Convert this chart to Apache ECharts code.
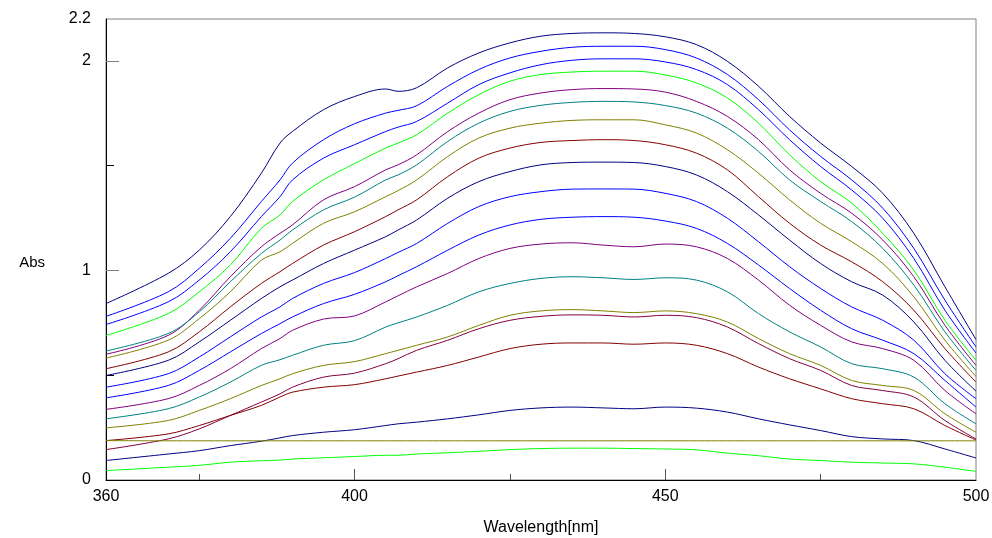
<!DOCTYPE html>
<html>
  <head>
    <meta charset="utf-8" />
    <title>Abs spectra</title>
    <script src="https://cdn.jsdelivr.net/npm/echarts@6.0.0/dist/echarts.min.js"></script>
    <style>
      html, body { margin: 0; padding: 0; background: #fff; }
    </style>
  </head>
  <body>
    <div id="main" style="width: 992px;height: 538px;"></div>
    <script type="text/javascript">
      // wavelengths [nm] shared by every trace
      var wavelengths = [360, 370, 375, 380, 385, 388, 390, 395, 400, 405, 407, 410, 415, 420, 425,
                         430, 435, 440, 445, 450, 455, 460, 465, 470, 475, 480, 485, 490, 495, 500];

      // absorbance traces, top to bottom
      var abs01 = [0.842, 0.986, 1.097, 1.257, 1.464, 1.608, 1.663, 1.767, 1.830, 1.866, 1.855, 1.872, 1.967, 2.038, 2.086,
                   2.118, 2.131, 2.134, 2.131, 2.115, 2.078, 1.998, 1.879, 1.735, 1.608, 1.496, 1.368, 1.177, 0.922, 0.670];
      var abs02 = [0.781, 0.898, 1.010, 1.153, 1.329, 1.432, 1.512, 1.624, 1.700, 1.751, 1.764, 1.786, 1.879, 1.959, 2.014,
                   2.046, 2.065, 2.070, 2.070, 2.054, 2.014, 1.935, 1.815, 1.671, 1.544, 1.432, 1.297, 1.105, 0.858, 0.635];
      var abs03 = [0.742, 0.850, 0.954, 1.089, 1.257, 1.352, 1.432, 1.536, 1.600, 1.663, 1.684, 1.711, 1.799, 1.887, 1.943,
                   1.982, 2.003, 2.010, 2.010, 1.995, 1.959, 1.887, 1.767, 1.624, 1.496, 1.384, 1.249, 1.057, 0.810, 0.606];
      var abs04 = [0.690, 0.794, 0.898, 1.026, 1.201, 1.265, 1.329, 1.432, 1.510, 1.584, 1.608, 1.648, 1.751, 1.839, 1.903,
                   1.935, 1.947, 1.951, 1.951, 1.933, 1.895, 1.823, 1.703, 1.552, 1.424, 1.321, 1.177, 1.001, 0.762, 0.571];
      var abs05 = [0.600, 0.690, 0.810, 0.970, 1.113, 1.177, 1.217, 1.337, 1.400, 1.480, 1.504, 1.552, 1.663, 1.751, 1.815,
                   1.847, 1.863, 1.868, 1.866, 1.851, 1.807, 1.735, 1.624, 1.480, 1.368, 1.273, 1.145, 0.970, 0.738, 0.547];
      var abs06 = [0.616, 0.699, 0.802, 0.946, 1.081, 1.145, 1.193, 1.289, 1.350, 1.432, 1.456, 1.504, 1.616, 1.703, 1.759,
                   1.788, 1.802, 1.807, 1.804, 1.787, 1.751, 1.679, 1.568, 1.432, 1.329, 1.233, 1.105, 0.930, 0.707, 0.523];
      var abs07 = [0.582, 0.667, 0.770, 0.898, 1.049, 1.089, 1.129, 1.225, 1.280, 1.352, 1.381, 1.432, 1.544, 1.632, 1.679,
                   1.703, 1.716, 1.719, 1.719, 1.695, 1.656, 1.576, 1.464, 1.337, 1.225, 1.137, 1.033, 0.874, 0.667, 0.494];
      var abs08 = [0.531, 0.611, 0.707, 0.826, 0.938, 0.994, 1.033, 1.121, 1.185, 1.257, 1.289, 1.337, 1.448, 1.536, 1.584,
                   1.611, 1.620, 1.624, 1.620, 1.600, 1.560, 1.480, 1.352, 1.225, 1.121, 1.041, 0.946, 0.810, 0.627, 0.467];
      var abs09 = [0.499, 0.571, 0.659, 0.762, 0.866, 0.922, 0.954, 1.033, 1.097, 1.161, 1.193, 1.241, 1.345, 1.424, 1.472,
                   1.504, 1.515, 1.517, 1.515, 1.496, 1.456, 1.376, 1.265, 1.145, 1.033, 0.946, 0.882, 0.754, 0.571, 0.424];
      var abs10 = [0.443, 0.507, 0.587, 0.683, 0.778, 0.826, 0.866, 0.938, 0.990, 1.057, 1.086, 1.129, 1.225, 1.305, 1.352,
                   1.376, 1.388, 1.389, 1.388, 1.368, 1.329, 1.249, 1.137, 1.018, 0.914, 0.826, 0.762, 0.667, 0.507, 0.388];
      var abs11 = [0.392, 0.451, 0.523, 0.611, 0.699, 0.746, 0.778, 0.842, 0.886, 0.946, 0.975, 1.018, 1.097, 1.169, 1.217,
                   1.244, 1.254, 1.257, 1.254, 1.236, 1.201, 1.129, 1.026, 0.914, 0.810, 0.722, 0.667, 0.603, 0.475, 0.348];
      var abs12 = [0.337, 0.388, 0.451, 0.531, 0.627, 0.675, 0.714, 0.768, 0.783, 0.850, 0.879, 0.922, 0.986, 1.057, 1.105,
                   1.126, 1.132, 1.121, 1.113, 1.126, 1.113, 1.057, 0.954, 0.834, 0.738, 0.659, 0.627, 0.571, 0.427, 0.316];
      var abs13 = [0.292, 0.340, 0.396, 0.467, 0.547, 0.574, 0.595, 0.643, 0.665, 0.730, 0.750, 0.778, 0.834, 0.898, 0.938,
                   0.962, 0.970, 0.965, 0.957, 0.965, 0.954, 0.898, 0.794, 0.707, 0.635, 0.555, 0.531, 0.491, 0.364, 0.268];
      var abs14 = [0.249, 0.284, 0.332, 0.388, 0.451, 0.483, 0.507, 0.547, 0.565, 0.603, 0.619, 0.643, 0.683, 0.738, 0.786,
                   0.807, 0.813, 0.807, 0.799, 0.807, 0.794, 0.754, 0.675, 0.603, 0.547, 0.475, 0.451, 0.427, 0.316, 0.228];
      var abs15 = [0.145, 0.196, 0.244, 0.308, 0.372, 0.411, 0.443, 0.491, 0.510, 0.555, 0.579, 0.619, 0.667, 0.722, 0.762,
                   0.781, 0.788, 0.786, 0.778, 0.786, 0.775, 0.730, 0.651, 0.579, 0.523, 0.451, 0.427, 0.396, 0.284, 0.196];
      var abs16 = [0.188, 0.220, 0.260, 0.308, 0.356, 0.396, 0.419, 0.443, 0.455, 0.483, 0.496, 0.515, 0.547, 0.587, 0.627,
                   0.648, 0.654, 0.654, 0.648, 0.654, 0.643, 0.603, 0.539, 0.483, 0.435, 0.388, 0.364, 0.340, 0.260, 0.191];
      var abs17 = [0.093, 0.124, 0.140, 0.164, 0.185, 0.201, 0.212, 0.228, 0.240, 0.260, 0.268, 0.276, 0.292, 0.311, 0.332,
                   0.344, 0.348, 0.344, 0.340, 0.348, 0.343, 0.324, 0.292, 0.263, 0.236, 0.207, 0.196, 0.188, 0.148, 0.105];
      var abs18 = [0.188, 0.187, 0.187, 0.187, 0.187, 0.187, 0.187, 0.187, 0.187, 0.187, 0.187, 0.187, 0.187, 0.187, 0.187,
                   0.187, 0.187, 0.187, 0.187, 0.187, 0.187, 0.187, 0.187, 0.187, 0.187, 0.187, 0.187, 0.187, 0.187, 0.187];
      var abs19 = [0.045, 0.061, 0.070, 0.085, 0.092, 0.095, 0.100, 0.106, 0.112, 0.118, 0.118, 0.124, 0.130, 0.137, 0.145,
                   0.150, 0.152, 0.152, 0.150, 0.148, 0.144, 0.128, 0.116, 0.100, 0.093, 0.085, 0.081, 0.077, 0.061, 0.041];

      var traces = [abs01, abs02, abs03, abs04, abs05, abs06, abs07, abs08, abs09, abs10,
                    abs11, abs12, abs13, abs14, abs15, abs16, abs17, abs18, abs19];
      var colors = ['#000080', '#0000ff', '#0000ff', '#00ff00', '#800080', '#008080', '#808000', '#800000',
                    '#000080', '#0000ff', '#0000ff', '#800080', '#008080', '#808000', '#800040', '#800000',
                    '#000080', '#808000', '#00ff00'];

      // tick marks / labels
      var xLabels = [360, 400, 450, 500];
      var xMajorTicks = [400, 450];
      var xMinorTicks = [375, 425, 475];
      var yLabels = [0, 1, 2, 2.2];
      var yMajorTicks = [1, 2];
      var yMinorTicks = [0.5, 1.5];

      var font = 'Liberation Sans';
      var myChart = echarts.init(document.getElementById('main'));

      var series = traces.map(function (vals, i) {
        return {
          type: 'line',
          xAxisIndex: 0,
          yAxisIndex: 0,
          showSymbol: false,
          smooth: 0.35,
          silent: true,
          lineStyle: { color: colors[i], width: 1 },
          data: wavelengths.map(function (w, j) { return [w, vals[j]]; })
        };
      });

      var option = {
        animation: false,
        grid: {
          left: 106, right: 16, top: 19, bottom: 58,
          outerBoundsMode: 'none',
          show: true, borderColor: '#808080', borderWidth: 1
        },
        xAxis: [
          {
            type: 'value', min: 360, max: 500,
            name: 'Wavelength[nm]', nameLocation: 'middle', nameGap: 40,
            nameTextStyle: { fontFamily: font, fontSize: 16, color: '#000' },
            axisLine: { lineStyle: { color: '#000', width: 1 } },
            axisTick: { inside: true, length: 11, customValues: xMajorTicks, lineStyle: { color: '#555' } },
            axisLabel: { customValues: xLabels, fontFamily: font, fontSize: 16, color: '#000', margin: 9 },
            splitLine: { show: false }
          },
          {
            type: 'value', min: 360, max: 500, position: 'bottom',
            axisLine: { show: false },
            axisTick: { inside: true, length: 6, customValues: xMinorTicks, lineStyle: { color: '#555' } },
            axisLabel: { show: false },
            splitLine: { show: false }
          }
        ],
        yAxis: [
          {
            type: 'value', min: 0, max: 2.2,
            name: 'Abs', nameLocation: 'middle', nameRotate: 0, nameGap: 61,
            nameTextStyle: { fontFamily: font, fontSize: 15, color: '#000', verticalAlign: 'top', lineHeight: 26 },
            axisLine: { show: true, lineStyle: { color: '#000', width: 1 } },
            axisTick: { show: true, inside: true, length: 13, customValues: yMajorTicks, lineStyle: { color: '#808080', width: 1 } },
            axisLabel: { customValues: yLabels, fontFamily: font, fontSize: 16, color: '#000', margin: 15 },
            splitLine: { show: false }
          },
          {
            type: 'value', min: 0, max: 2.2, position: 'left',
            axisLine: { show: false },
            axisTick: { show: true, inside: true, length: 8, customValues: yMinorTicks, lineStyle: { color: '#000', width: 1 } },
            axisLabel: { show: false },
            splitLine: { show: false }
          }
        ],
        series: series
      };

      myChart.setOption(option);
    </script>
  </body>
</html>
